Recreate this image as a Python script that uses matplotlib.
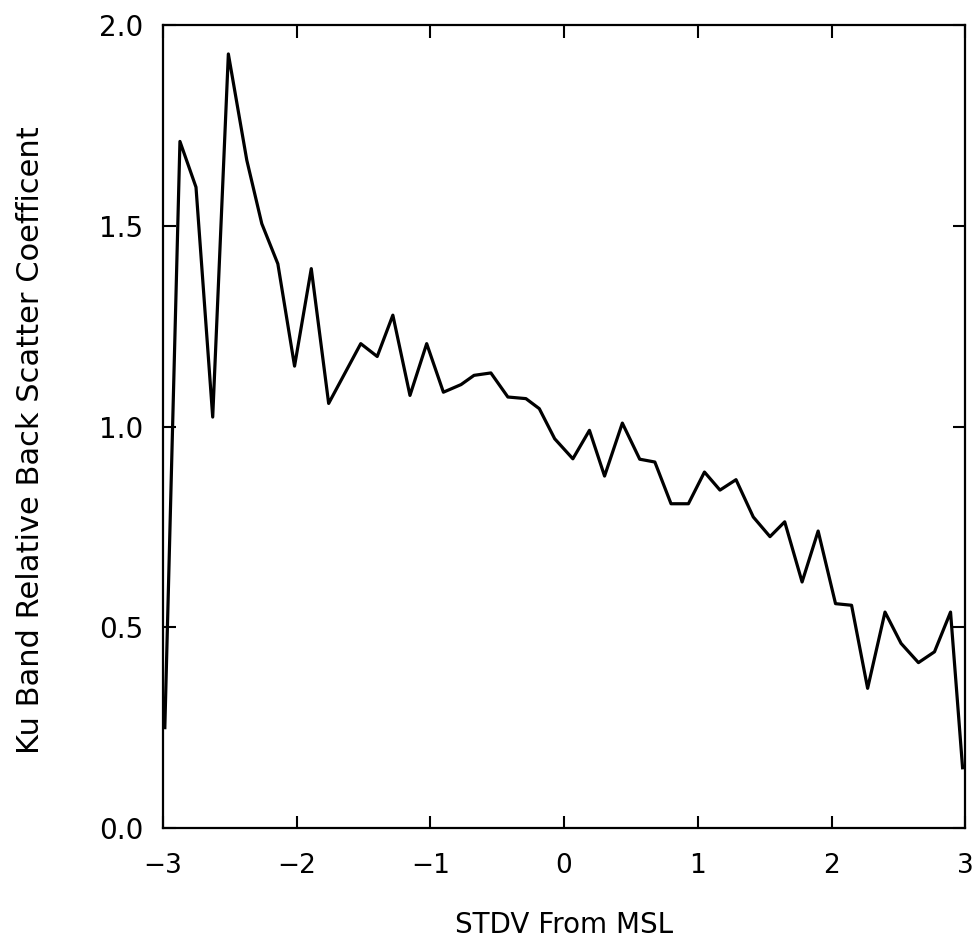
import matplotlib
matplotlib.use("Agg")
import matplotlib.pyplot as plt

stdv = [-2.985, -2.872, -2.752, -2.627, -2.51, -2.372, -2.26, -2.14, -2.015, -1.89,
        -1.76, -1.52, -1.397, -1.28, -1.152, -1.027, -0.902, -0.77, -0.673, -0.547,
        -0.42, -0.285, -0.185, -0.07, 0.066, 0.19, 0.303, 0.436, 0.566, 0.679,
        0.80, 0.93, 1.05, 1.166, 1.286, 1.415, 1.54, 1.65, 1.78, 1.90,
        2.03, 2.15, 2.27, 2.40, 2.52, 2.65, 2.77, 2.89, 2.98]
coef = [0.25, 1.711, 1.597, 1.024, 1.929, 1.664, 1.506, 1.406, 1.151, 1.394,
        1.058, 1.207, 1.175, 1.278, 1.078, 1.207, 1.086, 1.105, 1.128, 1.134,
        1.074, 1.07, 1.045, 0.970, 0.920, 0.991, 0.877, 1.009, 0.919, 0.912,
        0.808, 0.808, 0.887, 0.842, 0.868, 0.775, 0.726, 0.763, 0.613, 0.740,
        0.559, 0.555, 0.348, 0.538, 0.46, 0.412, 0.439, 0.538, 0.15]

xticks = [-3, -2, -1, 0, 1, 2, 3]
xtick_labels = ["\u22123", "\u22122", "\u22121", "0", "1", "2", "3"]
yticks = [0.0, 0.5, 1.0, 1.5, 2.0]
ytick_labels = ["0.0", "0.5", "1.0", "1.5", "2.0"]

fig = plt.figure(figsize=(9.75, 9.43), dpi=100)
ax = fig.add_axes([0.167, 0.122, 0.823, 0.851])
ax.plot(stdv, coef, color="black", linewidth=2.3)
ax.set_xlim(-3, 3)
ax.set_ylim(0, 2)
ax.set_xticks(xticks)
ax.set_xticklabels(xtick_labels)
ax.set_yticks(yticks)
ax.set_yticklabels(ytick_labels)
ax.tick_params(direction="in", length=9, width=1.5, top=True, right=True)
ax.tick_params(axis="x", labelsize=19, pad=18)
ax.tick_params(axis="y", labelsize=20, pad=14)
for s in ax.spines.values():
    s.set_linewidth(1.6)
ax.set_xlabel("STDV From MSL", fontsize=20)
ax.set_ylabel("Ku Band Relative Back Scatter Coefficent", fontsize=22)
ax.xaxis.set_label_coords(0.5, -0.103)
ax.xaxis.label.set_va("top")
ax.yaxis.set_label_coords(-0.147, 0.483)
fig.savefig("out.png", dpi=100)
